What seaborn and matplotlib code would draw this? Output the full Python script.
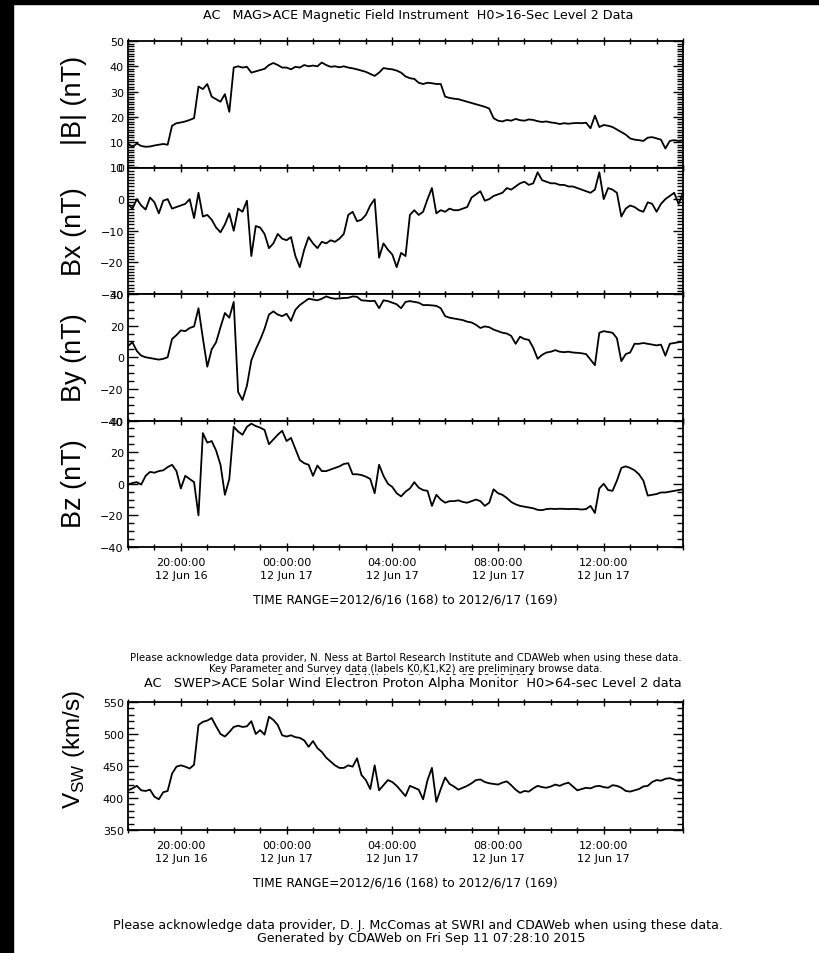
import numpy as np
import pandas as pd
import seaborn as sns
import matplotlib
matplotlib.use("Agg")
import matplotlib.pyplot as plt
import matplotlib.dates as mdates
from matplotlib.ticker import MultipleLocator
from matplotlib.patches import Rectangle

# 10-minute samples, 2012-06-16 18:00 -> 2012-06-17 15:00
times = pd.date_range("2012-06-16 18:00", periods=127, freq="10min")

bmag = [9.5, 8, 9.5, 8.5, 8.2, 8.3, 8.7, 9, 9.3, 9,
        16.5, 17.5, 17.8, 18.2, 18.8, 19.5, 32, 31, 33, 28,
        27, 26, 29, 22, 39.5, 40, 39.5, 39.8, 37.5, 38,
        38.5, 39, 40.5, 41.3, 40.5, 39.5, 39.5, 38.8, 39.8, 39.5,
        40.5, 40, 40.3, 40, 41.5, 40.5, 39.8, 40, 39.6, 40,
        39.5, 39.2, 38.8, 38.3, 37.8, 37, 36.2, 37.5, 39.3, 39,
        38.8, 38.3, 37.5, 36, 35.3, 35, 33.5, 33, 33.5, 33.3,
        33, 33, 28, 27.5, 27.2, 27, 26.5, 26, 25.5, 25,
        24.5, 24, 23.3, 19.5, 18.5, 18.2, 18.8, 18.5, 19.2, 18.7,
        18.5, 19, 18.8, 18.3, 18, 18.2, 17.8, 17.6, 17.2, 17.5,
        17.3, 17.5, 17.6, 17.5, 17.7, 15.5, 20.5, 16, 16.8, 16.5,
        16, 15, 14, 13, 11.5, 11, 10.8, 10.5, 11.8, 12,
        11.5, 11, 7.5, 10.5, 10.8, 10.5, 10.7]

bx = [-1.6, -3, 0, -2, -3.3, 0.5, -1, -4.5, -0.5, 0,
      -3, -2.5, -2, -1.5, 0, -6, 2, -5.5, -5, -6.5,
      -9, -10.5, -8, -4.5, -10, -3, -4, -0.5, -18, -8.5,
      -9, -11, -15.5, -14, -11, -12.5, -13, -12, -18, -21.5,
      -16, -12, -14, -15.5, -13.5, -14, -13, -13.5, -12.5, -11,
      -5, -4, -7, -6.5, -5, -2, 0, -18.5, -14, -16,
      -17.5, -21.5, -17, -18, -5, -3.5, -5, -4, 0, 3.5,
      -4.5, -3.5, -4, -3, -3.5, -3.5, -3, -2.5, 0.5, 1.5,
      2.5, -0.5, 0, 1, 1.5, 2, 3.5, 3, 4, 5,
      5.5, 4.5, 5, 8.5, 6, 5.5, 5, 5, 4.5, 4.5,
      4, 4, 3.5, 3, 2.5, 2, 3, 8.5, 0, 3.5,
      3, 2, -5.5, -3, -2, -2.5, -3.5, -4, -1, -1.5,
      -4, -1.5, 0, 1, 2, -1.5, 2]

by = [7, 9.5, 4, 1, 0, -0.5, -1, -1.5, -1, 0,
      11.5, 14, 17, 16.5, 18.5, 19.5, 31, 12, -6, 5,
      9.5, 19, 28, 25, 35, -22, -27, -18, -2, 5,
      11, 18, 27, 29, 27, 26, 27.5, 23, 30, 33,
      35, 37, 36.5, 36, 37, 38.5, 37.5, 37, 37.2, 37.5,
      37.6, 38.5, 38.2, 36, 35.8, 35.5, 35.7, 31, 36, 35.5,
      34.5, 33.5, 31, 35, 35.5, 35, 34.5, 33, 33, 32.8,
      32.5, 31, 26, 25, 24.5, 24, 23.5, 22.5, 22, 20.5,
      18.5, 19.5, 19, 17.5, 16.5, 15.5, 15, 13.5, 8.5, 13,
      11.5, 11, 6, -1, 1.5, 3, 3.5, 4.5, 3.5, 3.2,
      3.5, 3, 2.8, 2.5, 2, -1.5, -5, 15.5, 16.5, 16,
      15.5, 12, -2.5, 2, 3, 8.5, 8.5, 9, 8.5, 8,
      7.5, 8, 1, 8.5, 9, 9.5, 9.8]

bz = [-0.5, 0.5, 1, -0.5, 5, 7.5, 7, 8, 8.5, 10.5,
      12, 8, -3, 5, 3, 1, -20, 32, 26, 27,
      21, 12, -7, 3, 36, 33, 31, 36, 38, 36.5,
      35.5, 34, 25, 28, 31, 33.5, 27, 29, 22, 15,
      13, 12, 5, 11.5, 8, 8, 9, 10, 11, 12.5,
      13, 6, 6, 5.5, 4.5, 3, -6, 12, 5, 0,
      -2, -6, -8, -5, -3, 1, -2.5, -4, -4.5, -14,
      -7, -10, -12, -11, -11, -10.5, -11.5, -12, -11, -10,
      -11, -14, -12, -3.5, -6, -7, -9, -11.5, -13, -14,
      -14.5, -15, -15.5, -16.5, -16.7, -16, -15.8, -16, -15.8, -15.9,
      -16, -15.9, -16, -16.3, -16, -14, -18.5, -3, 0, -4,
      -4.5, 2, 10, 11, 10, 8.5, 6, 2, -7.5, -7,
      -6.5, -5.5, -5.5, -5, -4.5, -4, -3.5]

vsw = [412, 415, 419, 412, 411, 413, 402, 398, 409, 411,
       438, 449, 451, 449, 446, 452, 514, 519, 521, 525,
       512, 500, 496, 503, 511, 513, 511, 512, 520, 500,
       506, 499, 527, 522, 514, 498, 496, 498, 495, 494,
       490, 480, 489, 478, 472, 463, 457, 451, 447, 447,
       451, 449, 462, 436, 428, 414, 451, 412, 420, 428,
       425, 419, 411, 403, 419, 416, 413, 398, 428, 447,
       394, 414, 432, 422, 418, 413, 416, 419, 423, 428,
       429, 425, 423, 422, 421, 424, 426, 420, 413, 408,
       411, 410, 415, 419, 417, 416, 418, 421, 419, 422,
       424, 418, 412, 414, 416, 415, 418, 419, 417, 416,
       420, 419, 416, 411, 410, 412, 414, 418, 419, 425,
       428, 427, 430, 431, 429, 427, 428]

ylabels = ["|B| (nT)", "Bx (nT)", "By (nT)", "Bz (nT)", r"V$_{\rm SW}$ (km/s)"]
ylims = [(0, 50), (-30, 10), (-40, 40), (-40, 40), (350, 550)]
ymajor = [10, 10, 20, 20, 50]
yminor = [1, 1, 5, 5, 10]

sns.set_style("white")
plt.rcParams["font.family"] = ["DejaVu Sans"]
plt.rcParams["mathtext.fontset"] = "custom"
plt.rcParams["mathtext.rm"] = "Liberation Sans"
for key in ["text.color", "axes.labelcolor", "xtick.color", "ytick.color"]:
    plt.rcParams[key] = "black"

W, H = 819, 954
fig = plt.figure(figsize=(W / 100, H / 100), dpi=100)
fig.add_artist(Rectangle((0, 0), 13 / W, 1, transform=fig.transFigure, color="black", zorder=10))
fig.add_artist(Rectangle((0, 1 - 5 / H), 1, 5 / H, transform=fig.transFigure, color="black", zorder=10))

def fx(px):
    return px / W

def fy(py):
    return 1 - py / H

left, right = 128, 683
panels = [(42, 168.5), (168.5, 295), (295, 421.5), (421.5, 548), (703, 831)]
series = [bmag, bx, by, bz, vsw]
label_y = [100, 232, 358, 484, 750]
label_size = [19.5, 19.5, 19.5, 19.5, 17.5]
ticksize = 8

t0 = pd.Timestamp("2012-06-16 18:00")
t1 = pd.Timestamp("2012-06-17 15:00")

for k, (top, bot) in enumerate(panels):
    ax = fig.add_axes([fx(left), fy(bot), fx(right - left), (bot - top) / H])
    df = pd.DataFrame({"time": times, "value": series[k]})
    sns.lineplot(data=df, x="time", y="value", ax=ax, color="black",
                 linewidth=1.3, estimator=None)
    ax.set_xlim(t0, t1)
    ax.set_ylim(*ylims[k])
    ax.set_xlabel("")
    ax.set_ylabel("")
    ax.yaxis.set_major_locator(MultipleLocator(ymajor[k]))
    ax.yaxis.set_minor_locator(MultipleLocator(yminor[k]))
    ax.xaxis.set_major_locator(mdates.HourLocator(byhour=[0, 4, 8, 12, 16, 20]))
    ax.xaxis.set_minor_locator(mdates.HourLocator(interval=1))
    ax.xaxis.set_major_formatter(mdates.DateFormatter("%H:%M:%S\n%y %b %d"))
    for s in ax.spines.values():
        s.set_linewidth(1.3)
        s.set_color("black")
    ax.tick_params(axis="y", which="both", direction="in", left=True, right=True,
                   labelsize=ticksize, pad=3, width=1)
    ax.tick_params(axis="y", which="major", length=7)
    ax.tick_params(axis="y", which="minor", length=4.5)
    ax.tick_params(axis="x", which="both", direction="inout", top=True, bottom=True,
                   labelsize=ticksize, pad=4, width=1)
    ax.tick_params(axis="x", which="major", length=6)
    ax.tick_params(axis="x", which="minor", length=4)
    if k in (0, 1, 2):
        ax.tick_params(axis="x", labelbottom=False)
    for lab in ax.get_xticklabels():
        lab.set_horizontalalignment("center")
        lab.set_linespacing(1.35)
    fig.text(fx(74), fy(label_y[k]), ylabels[k], rotation=90, ha="center",
             va="center", fontsize=label_size[k], family="Liberation Sans")

mid = (left + right) / 2
fig.text(fx(418), fy(15), "AC   MAG>ACE Magnetic Field Instrument  H0>16-Sec Level 2 Data",
         ha="center", va="center", fontsize=9.2)
fig.text(fx(mid), fy(600), "TIME RANGE=2012/6/16 (168) to 2012/6/17 (169)",
         ha="center", va="center", fontsize=8.8)
fig.text(fx(mid), fy(658), "Please acknowledge data provider, N. Ness at Bartol Research Institute and CDAWeb when using these data.",
         ha="center", va="center", fontsize=7.3)
fig.text(fx(mid), fy(669), "Key Parameter and Survey data (labels K0,K1,K2) are preliminary browse data.",
         ha="center", va="center", fontsize=7.2)
fig.text(fx(mid), fy(679), "Generated by CDAWeb on Fri Sep 11 07:28:10 2015",
         ha="center", va="center", fontsize=7.2)
fig.text(fx(413), fy(684), "AC   SWEP>ACE Solar Wind Electron Proton Alpha Monitor  H0>64-sec Level 2 data",
         ha="center", va="center", fontsize=9.3,
         bbox=dict(facecolor="white", edgecolor="none", pad=1.2))
fig.text(fx(mid), fy(883), "TIME RANGE=2012/6/16 (168) to 2012/6/17 (169)",
         ha="center", va="center", fontsize=8.8)
fig.text(fx(418), fy(926), "Please acknowledge data provider, D. J. McComas at SWRI and CDAWeb when using these data.",
         ha="center", va="center", fontsize=9.1)
fig.text(fx(421), fy(939), "Generated by CDAWeb on Fri Sep 11 07:28:10 2015",
         ha="center", va="center", fontsize=9.1)

fig.savefig("out.png", dpi=100, facecolor="white")
